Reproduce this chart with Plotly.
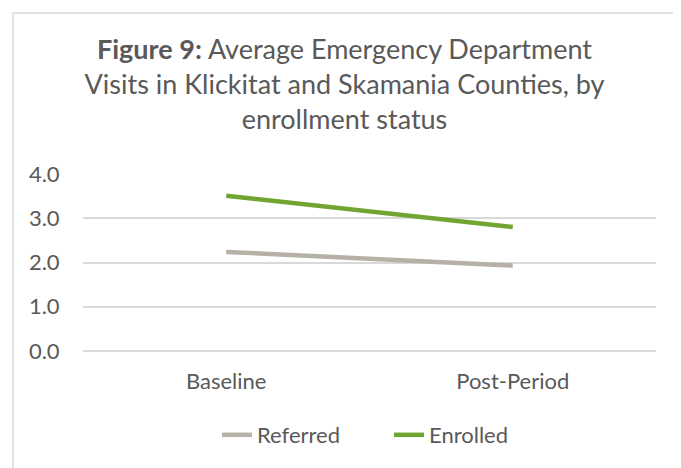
import plotly.graph_objects as go

categories = ["Baseline", "Post-Period"]
referred = [2.24, 1.93]
enrolled = [3.51, 2.80]
y_ticks = [0, 1, 2, 3, 4]
y_tick_labels = ["0.0", "1.0", "2.0", "3.0", "4.0"]

FONT = "Lato"
# page is rendered with an 8px body margin, so work in figure coordinates
W, H = 673, 460
L, R, T, B = 75, 25, 166, 117
pw = W - L - R
ph = H - T - B

def px_x(x):
    return (x - L) / pw

def px_y(y):
    return (H - B - y) / ph

fig = go.Figure()
fig.add_trace(go.Scatter(x=categories, y=referred, mode="lines", name="Referred",
                         line=dict(color="#b5b1a6", width=4.5)))
fig.add_trace(go.Scatter(x=categories, y=enrolled, mode="lines", name="Enrolled",
                         line=dict(color="#71a531", width=4.5)))

fig.update_layout(
    width=W, height=H,
    margin=dict(l=L, r=R, t=T, b=B),
    paper_bgcolor="white", plot_bgcolor="white",
    font=dict(family=FONT, color="#595959"),
    title=dict(
        text="<b>Figure 9:</b> Average Emergency Department<br>Visits in Klickitat and Skamania Counties, by<br>enrollment status",
        x=0.5, xref="container", xanchor="center",
        y=1 - 51 / H, yref="container", yanchor="top",
        font=dict(family=FONT, size=27, color="#595959"),
    ),
    xaxis=dict(
        range=[-0.5, 1.5], showgrid=False, zeroline=False, showline=False,
        ticks="outside", ticklen=11, tickcolor="rgba(0,0,0,0)",
        tickfont=dict(size=22, color="#595959"),
    ),
    yaxis=dict(
        range=[0, 4], tickvals=y_ticks, ticktext=y_tick_labels,
        showgrid=True, gridcolor="#d9d9d9", gridwidth=1.5,
        zeroline=True, zerolinecolor="#d9d9d9", zerolinewidth=1.5,
        showline=False,
        ticks="outside", ticklen=18, tickcolor="rgba(0,0,0,0)",
        tickfont=dict(size=22, color="#595959"),
    ),
    legend=dict(
        orientation="h", x=px_x(209), xanchor="left",
        y=px_y(427), yanchor="middle",
        font=dict(size=22, color="#595959"),
        itemwidth=30, entrywidth=127, entrywidthmode="pixels",
    ),
    showlegend=True,
)

# chart-area frame (top and left edges visible)
fig.add_shape(type="line", xref="paper", yref="paper",
              x0=px_x(5), x1=px_x(W + 5), y0=px_y(5), y1=px_y(5),
              line=dict(color="#d9d9d9", width=1.5))
fig.add_shape(type="line", xref="paper", yref="paper",
              x0=px_x(5), x1=px_x(5), y0=px_y(5), y1=px_y(H + 5),
              line=dict(color="#d9d9d9", width=1.5))

fig.write_html("out.html")
